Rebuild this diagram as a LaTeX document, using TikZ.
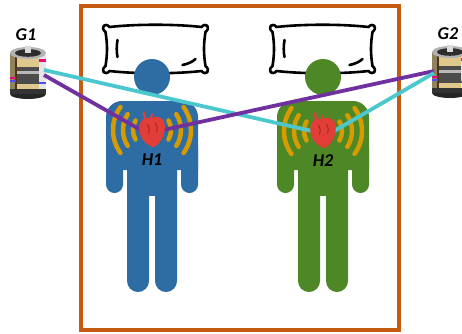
\documentclass[tikz,border=0pt]{standalone}
\usepackage{fontspec}
\setmainfont{Carlito}
\usetikzlibrary{positioning}

\definecolor{framebrown}{RGB}{197,90,17}
\definecolor{personblue}{RGB}{46,109,164}
\definecolor{persongreen}{RGB}{77,135,38}
\definecolor{linkcyan}{RGB}{75,200,205}
\definecolor{linkpurple}{RGB}{112,48,160}
\definecolor{heartred}{RGB}{224,62,54}
\definecolor{heartdark}{RGB}{160,30,30}
\definecolor{wavegold}{RGB}{214,155,0}
\definecolor{batterytan}{RGB}{222,200,140}

\tikzset{
  frame/.style={draw=framebrown,line width=4pt},
  link/.style={line width=3.8pt},
  wave/.style={draw=wavegold,line width=4.5pt,line cap=round},
  lbl/.style={inner sep=0pt,font=\fontsize{18}{18}\selectfont\bfseries\itshape},
  heartbox/.style={inner sep=0pt,minimum width=22pt,minimum height=26pt},
  % pillow behind each head
  pillow/.pic={
    \draw[line width=2.6pt,fill=white,line join=round]
      (-46,-22) .. controls (-20,-25) and (20,-25) .. (46,-22)
      .. controls (50,-27) and (56,-22) .. (50,-17)
      .. controls (48,-5) and (48,5) .. (50,17)
      .. controls (56,22) and (50,27) .. (46,22)
      .. controls (20,25) and (-20,25) .. (-46,22)
      .. controls (-50,27) and (-56,22) .. (-50,17)
      .. controls (-48,5) and (-48,-5) .. (-50,-17)
      .. controls (-56,-22) and (-50,-27) .. (-46,-22) -- cycle;
    \draw[line width=2.6pt,line cap=round] (-38,-9) .. controls (-39,-3) and (-39,3) .. (-38,8);
    \draw[line width=2.6pt,line cap=round] (27,16) .. controls (32,15) and (37,13) .. (40,10);
  },
  % standing figure, colour comes from the fill option
  person/.pic={
    \fill (0,77) circle[radius=18];
    \fill (-46,170) {[rounded corners=16] -- (-46,101) -- (46,101)} -- (46,170) -- cycle;
    \fill[rounded corners=8.5] (-46,140) rectangle (-29,193);
    \fill[rounded corners=8.5] (29,140) rectangle (46,193);
    \fill[rounded corners=11] (-25,150) rectangle (-3,292);
    \fill[rounded corners=11] (3,150) rectangle (25,292);
    \fill (-25,150) rectangle (25,196);
  },
  waves/.pic={
    \foreach \r/\a in {19/30,29/33,39/36}{
      \draw[wave] ({180-\a}:\r) arc[start angle=180-\a,end angle=180+\a,radius=\r];
      \draw[wave] ({-\a}:\r) arc[start angle=-\a,end angle=\a,radius=\r];
    }
  },
  heart/.pic={
    \begin{scope}[scale=1.15]
    \draw[heartred,line width=2.4pt,line cap=round] (-6,-8) -- (-7,-15.5);
    \draw[heartred,line width=2.2pt,line cap=round] (-1,-9) -- (0,-13.5);
    \fill[heartred] (1,15) .. controls (-7,12) and (-12,5) .. (-11,-3)
      .. controls (-10,-10) and (-5,-12) .. (-1,-10)
      .. controls (3,-13) and (10,-12) .. (11,-5)
      .. controls (12,3) and (8,12) .. (1,15) -- cycle;
    \draw[heartdark,line width=0.8pt] (-4,-5) .. controls (-2,-2) and (-2,1) .. (-3,3);
    \draw[heartdark,line width=0.8pt] (3,-6) .. controls (5,-3) and (5,0) .. (4,2);
    \end{scope}
  },
  % cut-away cell, origin at the top left
  battery/.pic={
    \fill[black!85] (20,50) ellipse[x radius=18,y radius=5];
    \fill[batterytan] (2,9) rectangle (38,50);
    \fill[batterytan!65!black] (2,9) rectangle (7,50);
    \fill[gray!20] (31,9) rectangle (38,50);
    \fill[black!70] (8,23) rectangle (31,40);
    \fill[gray!55] (8,27) rectangle (31,30);
    \fill[black!60!brown] (7,9) rectangle (9,50);
    \fill[magenta!80!red] (31,15) rectangle (38,18);
    \fill[magenta!80!red] (2,33) rectangle (8,35);
    \fill[blue!70] (2,36) rectangle (8,38);
    \fill[blue!70] (31,38) rectangle (38,40);
    \fill[black!80] (2,45) rectangle (38,50);
    \fill[gray!60] (20,9) ellipse[x radius=18,y radius=6];
    \fill[gray!35!black] (20,9) ellipse[x radius=13,y radius=3.8];
    \fill[gray!30] (17,1) rectangle (23,9);
    \fill[white] (20,1) ellipse[x radius=3,y radius=1.2];
    \coordinate (-e1) at (36,26);
    \coordinate (-e2) at (36,31);
    \coordinate (-w1) at (4,28);
    \coordinate (-w2) at (4,30);
    \coordinate (-top) at (18,0);
  },
}

\begin{document}
\begin{tikzpicture}[x=1pt,y=-1pt]
  \clip (0,0) rectangle (462,333);
  \draw[frame] (80.5,5.5) rectangle (399,330);

  \pic at (155.5,49) {pillow};
  \pic at (322.5,49) {pillow};
  \pic[fill=personblue] at (152,0) {person};
  \pic[fill=persongreen] at (323,0) {person};

  \node[heartbox] (h1) at (152,130) {};
  \node[heartbox] (h2) at (323,131) {};
  \foreach \h in {h1,h2} \pic at (\h) {waves};

  % generators
  \pic (g1) at (8,44) {battery};
  \pic (g2) at (430,43) {battery};

  \draw[link,linkcyan] (g1-e1) -- (h2.west);
  \draw[link,linkpurple] (g1-e2) -- (h1.west);
  \draw[link,linkpurple] (g2-w1) -- (h1.east);
  \draw[link,linkcyan] (g2-w2) -- (h2.east);

  \foreach \h in {h1,h2} \pic at (\h) {heart};

  \node[lbl,below=10pt of h1] (h1lbl) {H1};
  \node[lbl,below=10pt of h2] (h2lbl) {H2};
  \node[lbl,above=3pt of g1-top] (g1lbl) {G1};
  \node[lbl,above=3pt of g2-top] (g2lbl) {G2};
\end{tikzpicture}
\end{document}
